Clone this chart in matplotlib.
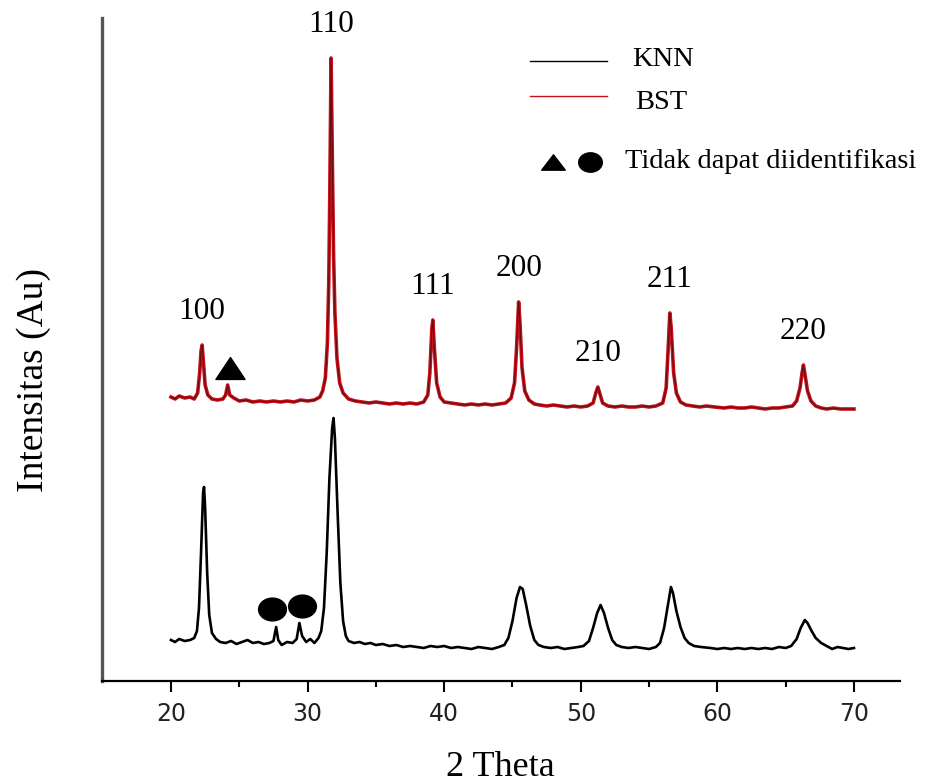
import numpy as np
import matplotlib
matplotlib.use("Agg")
import matplotlib.pyplot as plt
from matplotlib.path import Path
from matplotlib.transforms import Affine2D

# ---- diffraction patterns (2 theta in degrees, intensity in a.u.) ----
knn_2theta = [20.0, 20.3, 20.6, 21.0, 21.4, 21.7, 21.9, 22.05, 22.2, 22.35, 22.42, 22.5, 22.65, 22.8,
              23.0, 23.3, 23.6, 24.0, 24.4, 24.8, 25.2, 25.6, 26.0, 26.4, 26.8, 27.2, 27.5, 27.7,
              27.85, 28.1, 28.5, 28.9, 29.2, 29.4, 29.6, 29.9, 30.2, 30.5, 30.8, 31.0, 31.2, 31.4,
              31.6, 31.8, 31.9, 32.0, 32.2, 32.4, 32.6, 32.8, 33.0, 33.4, 33.8, 34.2, 34.6, 35.0,
              35.5, 36.0, 36.5, 37.0, 37.5, 38.0, 38.5, 39.0, 39.5, 40.0, 40.5, 41.0, 41.5, 42.0,
              42.5, 43.0, 43.5, 44.0, 44.4, 44.7, 45.0, 45.3, 45.55, 45.75, 46.0, 46.3, 46.6, 46.9,
              47.3, 47.8, 48.3, 48.8, 49.3, 49.8, 50.2, 50.6, 50.9, 51.2, 51.45, 51.7, 52.0, 52.3,
              52.6, 53.0, 53.5, 54.0, 54.5, 55.0, 55.5, 55.8, 56.1, 56.4, 56.6, 56.75, 57.0, 57.3,
              57.6, 57.9, 58.3, 58.8, 59.5, 60.0, 60.5, 61.0, 61.5, 62.0, 62.5, 63.0, 63.5, 64.0,
              64.5, 65.0, 65.4, 65.8, 66.1, 66.4, 66.6, 66.9, 67.2, 67.6, 68.0, 68.4, 68.8, 69.2,
              69.6, 70.0]
knn_int = [43, 41, 44, 42, 43, 45, 52, 75, 130, 190, 196, 175, 110, 68,
           50, 44, 41, 40, 42, 39, 41, 43, 40, 41, 39, 40, 42, 56,
           43, 38, 41, 40, 44, 60, 47, 41, 44, 40, 45, 52, 75, 130,
           205, 255, 265, 245, 170, 100, 62, 47, 42, 40, 41, 39, 40, 38,
           39, 37, 38, 36, 37, 36, 35, 37, 36, 37, 35, 36, 35, 34,
           36, 35, 34, 36, 38, 45, 62, 85, 96, 94, 78, 57, 43, 38,
           36, 35, 36, 34, 35, 36, 37, 42, 55, 70, 78, 70, 55, 43,
           38, 36, 35, 36, 35, 34, 36, 40, 55, 80, 96, 90, 72, 56,
           45, 40, 37, 36, 35, 34, 35, 34, 35, 34, 35, 34, 35, 34,
           36, 35, 37, 44, 55, 63, 60, 52, 45, 40, 37, 34, 36, 35,
           34, 35]

bst_2theta = [20.0, 20.3, 20.6, 21.0, 21.4, 21.7, 21.95, 22.1, 22.2, 22.28, 22.38, 22.5, 22.7, 23.0,
              23.4, 23.8, 24.0, 24.15, 24.3, 24.6, 25.0, 25.5, 26.0, 26.5, 27.0, 27.5, 28.0, 28.5,
              29.0, 29.5, 30.0, 30.5, 30.9, 31.1, 31.3, 31.45, 31.55, 31.62, 31.72, 31.82, 31.9, 32.0,
              32.15, 32.35, 32.6, 33.0, 33.5, 34.0, 34.5, 35.0, 35.5, 36.0, 36.5, 37.0, 37.5, 38.0,
              38.5, 38.8, 38.95, 39.1, 39.17, 39.28, 39.45, 39.7, 40.0, 40.5, 41.0, 41.5, 42.0, 42.5,
              43.0, 43.5, 44.0, 44.5, 44.9, 45.15, 45.3, 45.45, 45.55, 45.7, 45.9, 46.2, 46.6, 47.0,
              47.5, 48.0, 48.5, 49.0, 49.5, 50.0, 50.5, 50.9, 51.1, 51.25, 51.4, 51.6, 52.0, 52.5,
              53.0, 53.5, 54.0, 54.5, 55.0, 55.5, 56.0, 56.25, 56.4, 56.52, 56.62, 56.8, 57.0, 57.3,
              57.7, 58.2, 58.7, 59.2, 59.8, 60.5, 61.0, 61.5, 62.0, 62.5, 63.0, 63.5, 64.0, 64.5,
              65.0, 65.5, 65.8, 66.05, 66.2, 66.3, 66.42, 66.6, 66.85, 67.2, 67.6, 68.0, 68.5, 69.0,
              69.5, 70.0]
bst_int = [286, 284, 287, 285, 286, 284, 290, 310, 332, 338, 320, 298, 288, 284,
           283, 284, 288, 298, 288, 285, 282, 283, 281, 282, 281, 282, 281, 282,
           281, 283, 282, 283, 286, 292, 305, 340, 400, 480, 625, 520, 430, 370,
           325, 300, 290, 284, 282, 281, 280, 281, 280, 279, 280, 279, 280, 279,
           281, 288, 310, 355, 363, 335, 300, 286, 281, 280, 279, 278, 279, 278,
           279, 278, 279, 280, 285, 300, 335, 381, 360, 315, 292, 283, 279, 278,
           277, 278, 277, 276, 277, 276, 277, 280, 290, 296, 289, 280, 277, 276,
           277, 276, 276, 277, 276, 277, 280, 295, 335, 370, 355, 310, 290, 281,
           278, 277, 276, 277, 276, 275, 276, 275, 275, 276, 275, 274, 275, 275,
           276, 277, 282, 295, 310, 318, 308, 292, 282, 277, 275, 274, 275, 274,
           274, 274]

# Miller indices of the BST reflections
hkl_labels = ["100", "110", "111", "200", "210", "211", "220"]
hkl_2theta = [22.28, 31.72, 39.17, 45.45, 51.25, 56.52, 66.3]

# unidentified reflections: triangle on BST, circles on KNN
unknown_tri_2theta = [24.3]
unknown_tri_int = [315]
unknown_dot_2theta = [27.4, 29.6]
unknown_dot_int = [74, 77]

serif = "Liberation Serif"
red = "#c8101c"

fig = plt.figure(figsize=(9.27, 7.84), dpi=100)
ax = fig.add_axes([102 / 927, 103 / 784, 798 / 927, 663 / 784])

ax.plot(knn_2theta, knn_int, color="black", lw=1.9, label="KNN")
ax.plot(bst_2theta, bst_int, color=red, lw=2.6, label="BST", zorder=3)
ax.plot(bst_2theta, bst_int, color="#3a0a0a", lw=0.8, alpha=0.7, zorder=3)

# markers for phases that could not be identified
tri = Path([(-1, -0.75), (1, -0.75), (0, 0.75), (-1, -0.75)],
           [Path.MOVETO, Path.LINETO, Path.LINETO, Path.CLOSEPOLY])
oval = Path.unit_circle().transformed(Affine2D().scale(1, 0.82))
ax.plot(unknown_tri_2theta, unknown_tri_int, ls="none", marker=tri, ms=21, color="black")
ax.plot(unknown_dot_2theta, unknown_dot_int, ls="none", marker=oval, ms=20, color="black")

# hkl labels above each BST peak
for lab, pos in zip(hkl_labels, hkl_2theta):
    top = np.interp(pos, bst_2theta, bst_int)
    ax.annotate(lab, (pos, top), xytext=(0, 19), textcoords="offset points",
                ha="center", va="baseline", fontsize=22.5, family=serif)

# legend drawn by hand
ax.plot([0.536, 0.633], [0.935, 0.935], transform=ax.transAxes, color="black", lw=1.0)
ax.text(0.664, 0.937, "KNN", transform=ax.transAxes, va="center", fontsize=20.5, family=serif)
ax.plot([0.536, 0.633], [0.882, 0.882], transform=ax.transAxes, color=red, lw=1.0)
ax.text(0.668, 0.872, "BST", transform=ax.transAxes, va="center", fontsize=20.5, family=serif)
tri_small = Path([(-1, -0.65), (1, -0.65), (0, 0.65), (-1, -0.65)],
                 [Path.MOVETO, Path.LINETO, Path.LINETO, Path.CLOSEPOLY])
ax.plot([0.565], [0.783], transform=ax.transAxes, marker=tri_small, ms=17, color="black")
ax.plot([0.611], [0.783], transform=ax.transAxes, marker=oval, ms=17, color="black")
ax.text(0.655, 0.783, "Tidak dapat diidentifikasi", transform=ax.transAxes, va="center",
        fontsize=20.5, family=serif)

ax.set_xlim(14.95, 73.37)
ax.set_ylim(2, 665)
ax.set_xticks([20, 30, 40, 50, 60, 70])
ax.set_xticks([25, 35, 45, 55, 65], minor=True)
ax.set_yticks([])
ax.tick_params(axis="x", which="major", direction="out", length=8, width=1.5, pad=7,
               labelsize=17, labelcolor="#222222")
ax.tick_params(axis="x", which="minor", direction="out", length=4, width=1.5)
for lbl in ax.get_xticklabels():
    lbl.set_family("DejaVu Sans")

ax.spines["top"].set_visible(False)
ax.spines["right"].set_visible(False)
ax.spines["bottom"].set_linewidth(1.6)
ax.spines["left"].set_linewidth(2.4)
ax.spines["left"].set_color("#555555")

ax.set_xlabel("2 Theta", fontsize=26, family=serif)
ax.xaxis.set_label_coords((500 - 102) / 798, -0.106)
ax.set_ylabel("Intensitas (Au)", fontsize=27, family=serif)
ax.yaxis.set_label_coords(-0.064, (681 - 380) / 663)

fig.savefig("out.png", dpi=100)
